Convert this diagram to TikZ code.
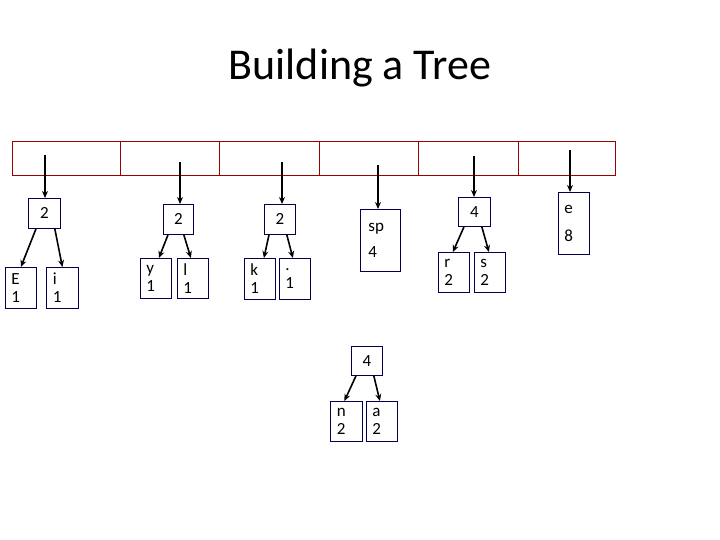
\documentclass[tikz,border=0pt]{standalone}
\usepackage{fontspec}
\setmainfont{Carlito}
\usetikzlibrary{calc,arrows.meta}
\begin{document}
\begin{tikzpicture}[x=1pt,y=-1pt,
  cell/.style={draw=red!60!black,line width=0.8pt,minimum height=34pt,inner sep=0pt,anchor=north west},
  nbox/.style={draw=blue!30!black,line width=0.8pt,inner sep=0pt,anchor=north west,font=\fontsize{17}{18}\selectfont},
  arr/.style={-{Stealth[length=7pt,width=6pt]},line width=1.6pt}]
\useasboundingbox (0,0) rectangle (720,540);
\node[font=\fontsize{44}{50}\selectfont] (title) at (360,68) {Building a Tree};
\foreach \i/\x/\w in {0/12/108,1/120/99,2/219/100,3/319/99,4/418/100,5/518/97}{
  \node[cell,minimum width=\w pt] (c\i) at (\x,141) {};}
% tree 1
\node[nbox,minimum width=32pt,minimum height=30pt] (t1) at (28,198) {2};
\node[nbox,minimum width=31pt,minimum height=41pt,text width=25pt,align=left] (E) at (5,267) {\hspace*{3pt}E\\\hspace*{3pt}1};
\node[nbox,minimum width=32pt,minimum height=41pt,text width=25pt,align=left] (iN) at (46,267) {\hspace*{3pt}i\\\hspace*{3pt}1};
\coordinate (a1) at (45,155);
\draw[arr] (a1) -- (t1.north -| a1);
\draw[arr] ($(t1.south west)+(8,0)$) -- (E.north);
\draw[arr] ($(t1.south east)+(-6,0)$) -- (iN.north);
% tree 2
\node[nbox,minimum width=30pt,minimum height=30pt] (t2) at (163,204) {2};
\node[nbox,minimum width=31pt,minimum height=40pt,text width=25pt,align=left] (y) at (140,258) {\hspace*{3pt}y\\\hspace*{3pt}1};
\node[nbox,minimum width=31pt,minimum height=40pt,text width=25pt,align=left] (l) at (177,258) {\hspace*{3pt}l\\\hspace*{3pt}1};
\coordinate (a2) at (180,162);
\draw[arr] (a2) -- (t2.north -| a2);
\draw[arr] ($(t2.south west)+(5,0)$) -- ($(y.north)+(3,0)$);
\draw[arr] ($(t2.south east)+(-10,0)$) -- ($(l.north)+(-2,0)$);
% tree 3
\node[nbox,minimum width=31pt,minimum height=30pt] (t3) at (264,204) {2};
\node[nbox,minimum width=31pt,minimum height=41pt,text width=25pt,align=left] (k) at (244,258) {\hspace*{3pt}k\\\hspace*{3pt}1};
\node[nbox,minimum width=31pt,minimum height=41pt,text width=25pt,align=left] (dot) at (279,258) {\hspace*{3pt}.\\\hspace*{3pt}1};
\coordinate (a3) at (282,162);
\draw[arr] (a3) -- (t3.north -| a3);
\draw[arr] ($(t3.south west)+(5,0)$) -- ($(k.north)+(4,0)$);
\draw[arr] ($(t3.south east)+(-9,0)$) -- ($(dot.north)+(-2,0)$);
% sp
\node[nbox,minimum width=40pt,minimum height=62pt,text width=32pt,align=left] (sp) at (360,209) {\hspace*{4pt}sp\\[8pt]\hspace*{4pt}4};
\coordinate (a4) at (378,165);
\draw[arr] (a4) -- (sp.north -| a4);
% tree 5
\node[nbox,minimum width=32pt,minimum height=29pt] (t5) at (458,197) {4};
\node[nbox,minimum width=31pt,minimum height=40pt,text width=25pt,align=left] (r) at (438,252) {\hspace*{3pt}r\\\hspace*{3pt}2};
\node[nbox,minimum width=31pt,minimum height=40pt,text width=25pt,align=left] (s) at (474,252) {\hspace*{3pt}s\\\hspace*{3pt}2};
\coordinate (a5) at (474,156);
\draw[arr] (a5) -- (t5.north -| a5);
\draw[arr] ($(t5.south west)+(6,0)$) -- ($(r.north)+(-1,0)$);
\draw[arr] ($(t5.south east)+(-9,0)$) -- ($(s.north)+(-1,0)$);
% e
\node[nbox,minimum width=31pt,minimum height=62pt,text width=25pt,align=left] (e) at (558,192) {\hspace*{3pt}e\\[10pt]\hspace*{3pt}8};
\coordinate (a6) at (570,150);
\draw[arr] (a6) -- (e.north -| a6);
% tree 7
\node[nbox,minimum width=31pt,minimum height=29pt] (t7) at (351,346) {4};
\node[nbox,minimum width=32pt,minimum height=40pt,text width=25pt,align=left] (n) at (330,401) {\hspace*{3pt}n\\\hspace*{3pt}2};
\node[nbox,minimum width=31pt,minimum height=40pt,text width=25pt,align=left] (a) at (366,401) {\hspace*{3pt}a\\\hspace*{3pt}2};
\draw[arr] ($(t7.south west)+(5,0)$) -- ($(n.north)+(-2,0)$);
\draw[arr] ($(t7.south east)+(-9,0)$) -- ($(a.north)+(-2,0)$);
\end{tikzpicture}
\end{document}
